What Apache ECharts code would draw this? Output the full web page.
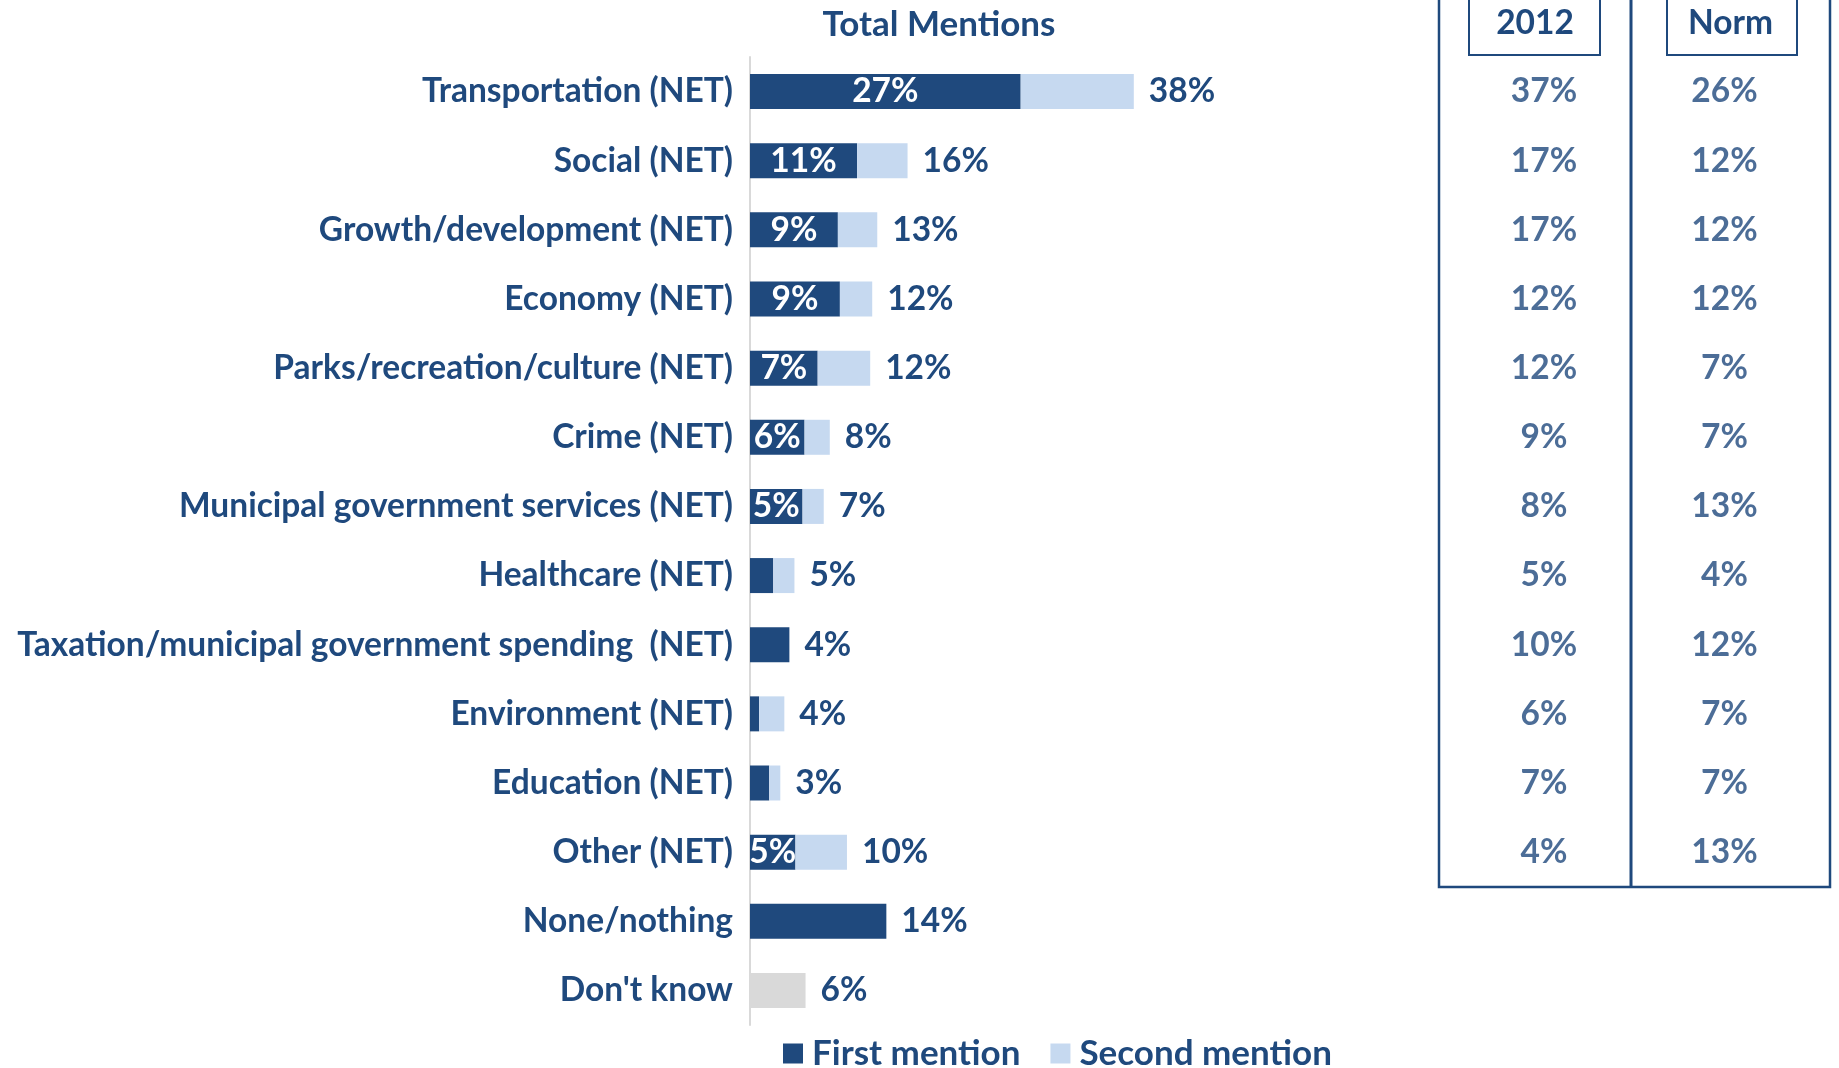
<!DOCTYPE html>
<html><head><meta charset="utf-8">
<script src="https://cdn.jsdelivr.net/npm/echarts@6/dist/echarts.min.js"></script>
<style>html,body{margin:0;padding:0;background:#fff}#c{width:1839px;height:1068px}</style>
</head><body><div id="c"></div>
<script>
const categories = ['Transportation (NET)','Social (NET)','Growth/development (NET)','Economy (NET)','Parks/recreation/culture (NET)','Crime (NET)','Municipal government services (NET)','Healthcare (NET)','Taxation/municipal government spending  (NET)','Environment (NET)','Education (NET)','Other (NET)','None/nothing',"Don't know"];
const firstMention  = [26.8, 10.6, 8.7, 8.9, 6.7, 5.4, 5.2, 2.3, 3.9, 0.9, 1.9, 4.5, 13.5, null];
const secondMention = [11.2, 5.0, 3.9, 3.2, 5.2, 2.5, 2.1, 2.1, 0, 2.5, 1.1, 5.1, 0, null];
const dontKnow      = [null,null,null,null,null,null,null,null,null,null,null,null,null, 5.5];
const firstLabels = ['27%','11%','9%','9%','7%','6%','5%','','','','','5%','',''];
const totalLabels = ['38%','16%','13%','12%','12%','8%','7%','5%','4%','4%','3%','10%','14%','6%'];
const tableCats = categories.slice(0, 12);
const values2012 = [37,17,17,12,12,9,8,5,10,6,7,4];
const valuesNorm = [26,12,12,12,7,7,13,4,12,7,7,13];
const colHeaders = ['2012','Norm'];

const NAVY = '#1F497D', LIGHT = '#C6D9F0', GREY = '#D9D9D9';
const FONT = 'Lato';
const FS = 33.5;

const chart = echarts.init(document.getElementById('c'), null, {renderer:'canvas'});
function tableSeries(idx, vals, dx){
  return {
    type:'scatter', xAxisIndex: idx, yAxisIndex: idx, symbolSize: 1,
    itemStyle:{color:'rgba(0,0,0,0)'},
    data: vals.map((v,i)=>[colHeaders[idx-1], tableCats[i], v]),
    label:{show:true, position:'inside', offset:[dx,0], formatter:p=>p.data[2]+'%',
      color:NAVY, fontFamily:FONT, fontWeight:'bold', fontSize:FS},
    silent:true, z:5
  };
}
function tableXAxis(idx){
  return {type:'category', gridIndex:idx, data:[colHeaders[idx-1]], position:'top',
    axisLine:{show:false}, axisTick:{show:false}, splitLine:{show:false},
    axisLabel:{show:true, color:NAVY, fontFamily:FONT, fontWeight:'bold', fontSize:FS, margin:14, lineHeight:40}};
}
function tableYAxis(idx){
  return {type:'category', gridIndex:idx, data:tableCats, inverse:true, show:false};
}
const option = {
  backgroundColor:'#fff',
  animation:false,
  title:{text:'Total Mentions', left:934, top:2, textAlign:'center',
    textStyle:{color:NAVY, fontFamily:FONT, fontWeight:'bold', fontSize:35}},
  legend:{left:783, top:1036, padding:0, itemWidth:20, itemHeight:20, itemGap:30, icon:'rect',
    data:['First mention','Second mention'],
    textStyle:{color:NAVY, fontFamily:FONT, fontWeight:'bold', fontSize:35, padding:[0,0,0,4]}},
  grid:[
    {left:750, top:57, height:968, width:505, containLabel:false},
    {left:1439, top:57, height:829.8, width:192},
    {left:1631, top:57, height:829.8, width:199}
  ],
  xAxis:[
    {type:'value', gridIndex:0, min:0, max:50, show:false, splitLine:{show:false}},
    tableXAxis(1), tableXAxis(2)
  ],
  yAxis:[
    {type:'category', gridIndex:0, data:categories, inverse:true,
      axisLine:{show:true, lineStyle:{color:GREY, width:2}}, axisTick:{show:false},
      axisLabel:{color:NAVY, fontFamily:FONT, fontWeight:'bold', fontSize:FS, margin:17}},
    tableYAxis(1), tableYAxis(2)
  ],
  graphic:[
    {type:'polyline', shape:{points:[[1439,-5],[1439,887],[1830,887],[1830,-5]]}, style:{stroke:NAVY, lineWidth:2.5, fill:null}},
    {type:'line', shape:{x1:1631,y1:-5,x2:1631,y2:887}, style:{stroke:NAVY, lineWidth:3}},
    {type:'rect', shape:{x:1469,y:-5,width:131,height:60}, style:{stroke:NAVY, lineWidth:2, fill:null}},
    {type:'rect', shape:{x:1667,y:-5,width:130,height:60}, style:{stroke:NAVY, lineWidth:2, fill:null}}
  ],
  series:[
    {name:'First mention', type:'bar', stack:'t', barWidth:35, data:firstMention,
      itemStyle:{color:NAVY},
      label:{show:true, position:'inside', formatter:p=>firstLabels[p.dataIndex],
        color:'#fff', fontFamily:FONT, fontWeight:'bold', fontSize:FS}},
    {name:'Second mention', type:'bar', stack:'t', barWidth:35, data:secondMention,
      itemStyle:{color:LIGHT},
      label:{show:true, position:'right', distance:15, formatter:p=>totalLabels[p.dataIndex],
        color:NAVY, fontFamily:FONT, fontWeight:'bold', fontSize:FS}},
    {name:"Don't know", type:'bar', stack:'t', barWidth:35, data:dontKnow,
      itemStyle:{color:GREY},
      label:{show:true, position:'right', distance:15, formatter:p=>totalLabels[p.dataIndex],
        color:NAVY, fontFamily:FONT, fontWeight:'bold', fontSize:FS}},
    tableSeries(1, values2012, 9),
    tableSeries(2, valuesNorm, -6)
  ]
};
chart.setOption(option);
</script></body></html>
